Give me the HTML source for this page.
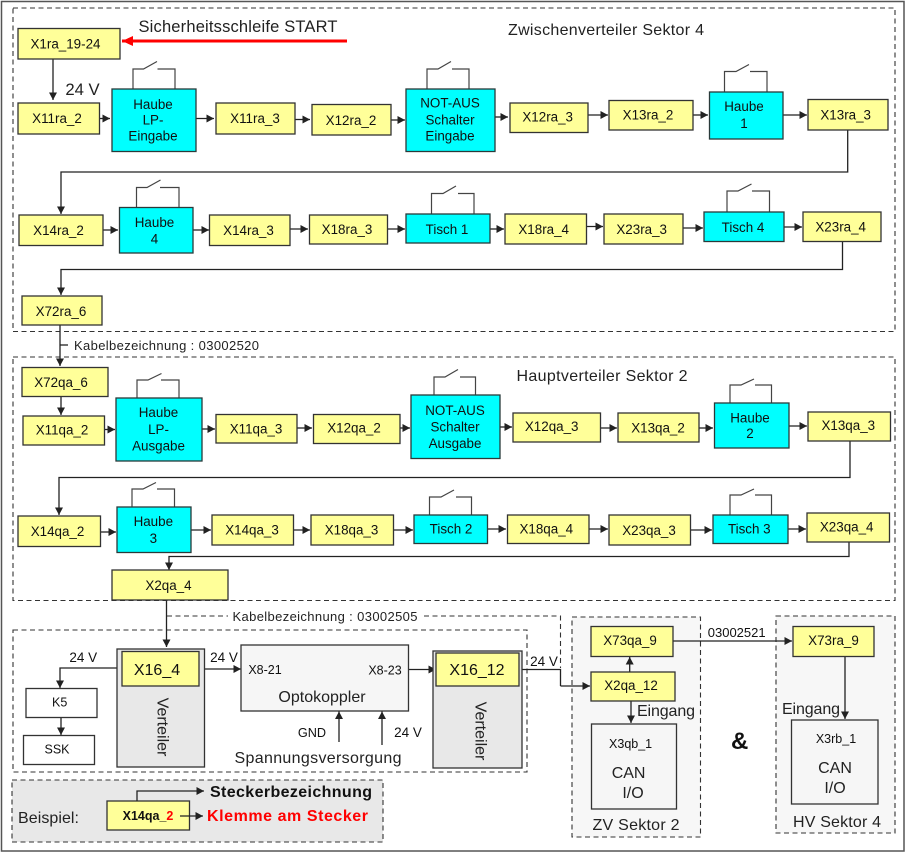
<!DOCTYPE html>
<html><head><meta charset="utf-8">
<style>
html,body{margin:0;padding:0;background:#fff;width:908px;height:853px;overflow:hidden}
svg{display:block;filter:blur(.3px)}
text{font-family:"Liberation Sans",Arial,sans-serif;font-size:13.4px;fill:#111;text-anchor:middle}
.y{fill:#ffff99;stroke:#333;stroke-width:1.3}
.c{fill:#00ffff;stroke:#2a3a3a;stroke-width:1.3}
.w{fill:#fff;stroke:#333;stroke-width:1.3}
.g{fill:#f6f6f6;stroke:#333;stroke-width:1.3}
.v{fill:#e8e8e8;stroke:#333;stroke-width:1.3}
.d{fill:none;stroke:#333;stroke-width:1.1;stroke-dasharray:5 3.5}
.l{fill:none;stroke:#222;stroke-width:1.3}
.a{fill:none;stroke:#222;stroke-width:1.3;marker-end:url(#ah)}
.s{fill:none;stroke:#444;stroke-width:1.2}
.t{font-size:16px;fill:#222}
.m{font-size:13.5px}
.k{font-size:13px;fill:#222}
</style></head><body>
<svg width="908" height="853" viewBox="0 0 908 853" xmlns="http://www.w3.org/2000/svg">
<defs><marker id="ah" markerUnits="userSpaceOnUse" markerWidth="9" markerHeight="9" refX="7.5" refY="4.5" orient="auto"><path d="M0,0.5 L7.5,4.5 L0,8.5 Z" fill="#222"/></marker>
<marker id="rh" markerUnits="userSpaceOnUse" markerWidth="12" markerHeight="12" refX="11" refY="6" orient="auto"><path d="M0,1 L11,6 L0,11 Z" fill="#f00"/></marker></defs>
<rect width="908" height="853" fill="#fff"/>
<rect x="1.5" y="1.5" width="902.5" height="849.5" fill="#fff" stroke="#555" stroke-width="1.5"/>

<!-- dashed containers -->
<rect class="d" x="13" y="8" width="882" height="323.5"/>
<rect class="d" x="13" y="357" width="882" height="243.5"/>
<rect class="d" x="13" y="630" width="514" height="142"/>
<rect class="d" x="12" y="780" width="371" height="62" style="fill:#e8e8e8"/>
<rect class="d" x="572" y="617" width="128.500" height="220" style="fill:#f7f7f7"/>
<rect class="d" x="776" y="616" width="119" height="217" style="fill:#f7f7f7"/>

<!-- switches -->
<path class="s" d="M133,89V69H143.500L157,61.500M157.500,69H175V89"/>
<path class="s" d="M427,89V69H438L451,61.500M452,69H469V89"/>
<path class="s" d="M724.500,92V71.500H736L749,64.500M750,71.500H767V92"/>
<path class="s" d="M136.500,207.500V187.500H147L160.500,180M160,187.500H179V207.500"/>
<path class="s" d="M431.500,214V193.500H443L456,186M458,193.500H474V214"/>
<path class="s" d="M727,212V191H738L751.500,184M752,191H769.500V212"/>
<path class="s" d="M137,398V380H148L161.500,373.500M161,380H179V398"/>
<path class="s" d="M434,395V377H445L458,369.500M460,377H475.500V395"/>
<path class="s" d="M730,403V385H741L754,379M755,385H771.500V403"/>
<path class="s" d="M132,507V489H143L156,482.500M157,489H174.500V507"/>
<path class="s" d="M429.500,515V497H441L454,490M456,497H471.500V515"/>
<path class="s" d="M730,515V495H741L754,489M755,495H771.500V515"/>

<!-- connectors -->
<path class="a" d="M53,59V100"/>
<path class="a" d="M99,118.500H110"/><path class="a" d="M195,118.500H214"/><path class="a" d="M295,119.500H310"/><path class="a" d="M391,120H405"/><path class="a" d="M494,117H508"/><path class="a" d="M588,115H608"/><path class="a" d="M693,115H708"/><path class="a" d="M783,115H807"/>
<path class="a" d="M847.700,130V172H61V214"/>
<path class="a" d="M103,230H118"/><path class="a" d="M193,230H209"/><path class="a" d="M290,229H308"/><path class="a" d="M387,229H405"/><path class="a" d="M490,229H504"/><path class="a" d="M586,226.500H603"/><path class="a" d="M683,228H703"/><path class="a" d="M784,227H802"/>
<path class="a" d="M842.500,241.500V269.500H61V295"/>
<path class="a" d="M60,325V366"/><path class="l" d="M60,345H68"/>
<path class="a" d="M61,396.500V415"/>
<path class="a" d="M104,429.500H115"/><path class="a" d="M202,429H215"/><path class="a" d="M297,428H312"/><path class="a" d="M400,428H410"/><path class="a" d="M500,427H512"/><path class="a" d="M600,428H617"/><path class="a" d="M699,428H713"/><path class="a" d="M789,426H807"/>
<path class="a" d="M850,441V477.500H59V515"/>
<path class="a" d="M100,532H116"/><path class="a" d="M191,530H211"/><path class="a" d="M293,530H310"/><path class="a" d="M393,530H413"/><path class="a" d="M487,529H506"/><path class="a" d="M589,529H608"/><path class="a" d="M690,530H712"/><path class="a" d="M788,529H806"/>
<path class="a" d="M849,542V556.500H169V570"/>
<path class="a" d="M166.500,600V647"/>
<path class="d" d="M167,616H228M424,616H560.500V668"/>
<path class="a" d="M122,668H60V688"/>
<path class="a" d="M61,717.500V735"/>
<path class="a" d="M199,669H241"/>
<path class="a" d="M408,669.500H436"/>
<path class="a" d="M339,742V711.500"/><path class="a" d="M382,745V711.500"/>
<path class="l" d="M519,669.500H560.500V686"/><path class="a" d="M560.500,686H590"/>
<path class="a" d="M629.700,672V657"/><path class="a" d="M631,701V723"/>
<path class="a" d="M673,641H792"/><path class="a" d="M845,656.500V719"/>
<path d="M347,41H122" fill="none" stroke="#f00" stroke-width="3" marker-end="url(#rh)"/>

<!-- row 1 -->
<rect class="y" x="18" y="28.500" width="102" height="30.500"/><text x="65.500" y="48.500">X1ra_19-24</text>
<rect class="y" x="18" y="103" width="81.500" height="31"/><text x="57" y="123">X11ra_2</text>
<rect class="c" x="112" y="89" width="84" height="62.500"/><text x="153" y="109">Haube</text><text x="153" y="124.500">LP-</text><text x="153" y="140.700">Eingabe</text>
<rect class="y" x="216" y="103" width="79" height="31"/><text x="255" y="123">X11ra_3</text>
<rect class="y" x="312" y="104.500" width="79" height="30.500"/><text x="351" y="125">X12ra_2</text>
<rect class="c" x="406" y="89" width="89" height="62.500"/><text x="450" y="107.700">NOT-AUS</text><text x="450" y="124.500">Schalter</text><text x="450" y="140.700">Eingabe</text>
<rect class="y" x="510" y="103" width="78" height="29.500"/><text x="547.700" y="121.700">X12ra_3</text>
<rect class="y" x="609" y="100.500" width="84" height="29.500"/><text x="648" y="119.500">X13ra_2</text>
<rect class="c" x="709.500" y="92" width="73.500" height="47"/><text x="744" y="111">Haube</text><text x="744" y="128">1</text>
<rect class="y" x="808" y="99.500" width="80" height="30.500"/><text x="845.700" y="119.500">X13ra_3</text>
<!-- row 2 -->
<rect class="y" x="19" y="215" width="84" height="30.500"/><text x="58.500" y="235">X14ra_2</text>
<rect class="c" x="119.500" y="207.500" width="73.500" height="45.500"/><text x="154.500" y="227">Haube</text><text x="154.500" y="243.500">4</text>
<rect class="y" x="209.500" y="215" width="80.500" height="30.500"/><text x="248.500" y="235">X14ra_3</text>
<rect class="y" x="309.500" y="215" width="78" height="29"/><text x="347" y="234">X18ra_3</text>
<rect class="c" x="406" y="214" width="84" height="29"/><text x="447" y="234">Tisch 1</text>
<rect class="y" x="505" y="214" width="81.500" height="30"/><text x="543.700" y="234">X18ra_4</text>
<rect class="y" x="604" y="214" width="79" height="30"/><text x="641.700" y="234">X23ra_3</text>
<rect class="c" x="704" y="212" width="80" height="29.500"/><text x="743" y="232">Tisch 4</text>
<rect class="y" x="803" y="212" width="78" height="29.500"/><text x="840.700" y="231.500">X23ra_4</text>
<rect class="y" x="22" y="296" width="80" height="29"/><text x="61" y="316">X72ra_6</text>
<!-- box 2 -->
<rect class="y" x="22" y="367.500" width="86" height="29"/><text x="61" y="387">X72qa_6</text>
<rect class="y" x="23" y="416" width="81.500" height="29"/><text x="62" y="434.300">X11qa_2</text>
<rect class="c" x="116" y="398" width="86" height="63"/><text x="158.500" y="417">Haube</text><text x="158.500" y="434">LP-</text><text x="158.500" y="450.700">Ausgabe</text>
<rect class="y" x="216" y="414.500" width="81" height="28.500"/><text x="256" y="433.500">X11qa_3</text>
<rect class="y" x="313.500" y="414.500" width="86.500" height="29"/><text x="354" y="432.500">X12qa_2</text>
<rect class="c" x="411" y="395" width="89" height="63.500"/><text x="455" y="415">NOT-AUS</text><text x="455" y="431.500">Schalter</text><text x="455" y="448">Ausgabe</text>
<rect class="y" x="513" y="413" width="87.500" height="29"/><text x="551.700" y="431">X12qa_3</text>
<rect class="y" x="618" y="413" width="81" height="29"/><text x="658" y="432.500">X13qa_2</text>
<rect class="c" x="714.500" y="403" width="74.500" height="45"/><text x="750" y="422.300">Haube</text><text x="750" y="438">2</text>
<rect class="y" x="808" y="412" width="82.500" height="29"/><text x="848.300" y="430">X13qa_3</text>
<rect class="y" x="18" y="516" width="82.500" height="30.500"/><text x="57.500" y="536">X14qa_2</text>
<rect class="c" x="117" y="507" width="74" height="45.500"/><text x="153.300" y="526">Haube</text><text x="153.300" y="543">3</text>
<rect class="y" x="212" y="515" width="81.500" height="30"/><text x="252" y="534.500">X14qa_3</text>
<rect class="y" x="311" y="515" width="82.500" height="30"/><text x="351.500" y="534.500">X18qa_3</text>
<rect class="c" x="414" y="515" width="73.500" height="28.500"/><text x="451" y="533.500">Tisch 2</text>
<rect class="y" x="507.500" y="515" width="81.500" height="28.500"/><text x="546.300" y="533.500">X18qa_4</text>
<rect class="y" x="609" y="515" width="81.500" height="30"/><text x="649" y="535">X23qa_3</text>
<rect class="c" x="713" y="515" width="75" height="28.500"/><text x="749.300" y="533.500">Tisch 3</text>
<rect class="y" x="807" y="513" width="82.500" height="29"/><text x="846.700" y="531.500">X23qa_4</text>
<rect class="y" x="112" y="570" width="116" height="30"/><text x="168.500" y="590">X2qa_4</text>
<!-- box 3 -->
<rect class="v" x="117" y="649" width="87.500" height="118"/>
<rect class="y" x="122" y="651.500" width="77" height="34.500"/><text x="157" y="675" style="font-size:16px">X16_4</text>
<text transform="translate(157.500,727) rotate(90)" class="t">Verteiler</text>
<rect class="g" x="241" y="645" width="167.500" height="66"/>
<text x="265" y="674" style="font-size:12.500px">X8-21</text><text x="385" y="674.500" style="font-size:12.500px">X8-23</text>
<text x="322" y="702" class="t">Optokoppler</text>
<rect class="w" x="26" y="688.500" width="71" height="29"/><text x="59.700" y="706.500" style="font-size:12.500px">K5</text>
<rect class="w" x="23.500" y="735.500" width="71" height="29"/><text x="57" y="753.500" style="font-size:12.500px">SSK</text>
<rect class="v" x="433" y="651" width="89" height="117"/>
<rect class="y" x="436" y="653" width="83" height="33"/><text x="477" y="675" style="font-size:16px">X16_12</text>
<text transform="translate(475.500,731) rotate(90)" class="t">Verteiler</text>
<text x="83.300" y="662" class="m">24 V</text><text x="224" y="662" class="m">24 V</text><text x="544" y="666" class="m">24 V</text>
<text x="312" y="737" style="font-size:12.700px">GND</text><text x="408" y="737" class="m">24 V</text>
<text x="318" y="763" class="t" textLength="167">Spannungsversorgung</text>
<!-- legend -->
<rect class="y" x="107" y="801" width="82.500" height="29"/>
<text x="148" y="820" style="font-size:12.500px;font-weight:bold;fill:#111">X14qa_<tspan fill="#f00">2</tspan></text>
<path class="a" d="M137,801V791H204"/><path class="a" d="M180,816H203"/>
<text x="291" y="797" style="font-size:16px;font-weight:bold;fill:#111" textLength="162">Steckerbezeichnung</text>
<text x="287.500" y="821" style="font-size:16px;font-weight:bold;fill:#f00" textLength="161">Klemme am Stecker</text>
<text x="48.500" y="823" class="t" textLength="61">Beispiel:</text>
<!-- right -->
<rect class="y" x="591" y="626.500" width="82" height="30"/><text x="630" y="645">X73qa_9</text>
<rect class="y" x="591" y="672" width="84" height="29"/><text x="631" y="690">X2qa_12</text>
<rect class="g" x="591.500" y="724" width="85" height="85"/><text x="630.600" y="748" style="font-size:12.500px">X3qb_1</text><text x="628.600" y="778" style="font-size:16px;fill:#222">CAN</text><text x="633" y="798" style="font-size:16px;fill:#222">I/O</text>
<text x="636" y="830" class="t" textLength="87">ZV Sektor 2</text>
<text x="666" y="716" class="t" textLength="58">Eingang</text>
<text x="739.700" y="749" style="font-size:24px;font-weight:bold;fill:#111">&amp;</text>
<text x="736.700" y="637" style="font-size:13px">03002521</text>
<rect class="y" x="793" y="626.500" width="81" height="30"/><text x="833.500" y="645">X73ra_9</text>
<text x="811" y="714" class="t" textLength="58">Eingang</text>
<rect class="g" x="791.500" y="720" width="86.500" height="84"/><text x="836" y="743" style="font-size:12.500px">X3rb_1</text><text x="835" y="773" style="font-size:16px;fill:#222">CAN</text><text x="835" y="793" style="font-size:16px;fill:#222">I/O</text>
<text x="837" y="827" class="t" textLength="88">HV Sektor 4</text>
<!-- titles -->
<text x="238" y="32" style="font-size:16.500px;fill:#222" textLength="199">Sicherheitsschleife START</text>
<text x="606" y="35" class="t" textLength="196">Zwischenverteiler Sektor 4</text>
<text x="602" y="381" class="t" textLength="171">Hauptverteiler Sektor 2</text>
<text x="82.500" y="95" style="font-size:16.700px;fill:#222">24 V</text>
<text x="166.500" y="350" class="k" textLength="185">Kabelbezeichnung : 03002520</text>
<text x="325" y="621" class="k" textLength="185">Kabelbezeichnung : 03002505</text>
</svg>
</body></html>
